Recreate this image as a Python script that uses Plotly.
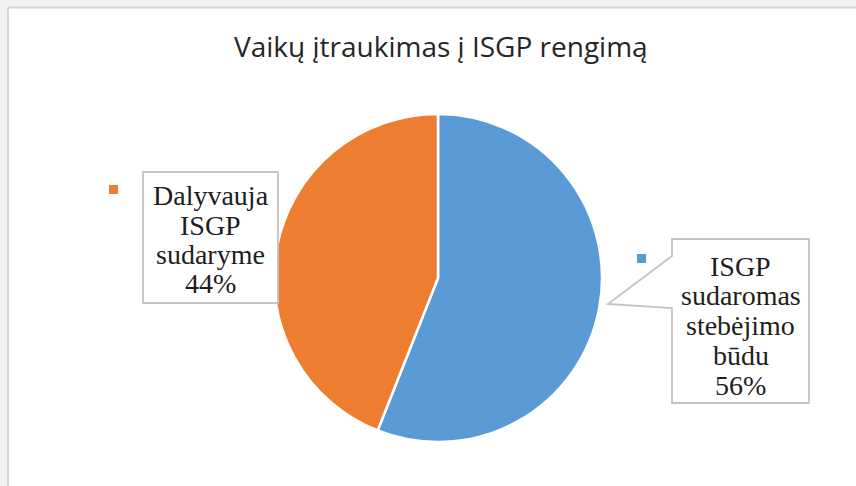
import plotly.graph_objects as go

# ---- data ----
labels = ["ISGP\nsudaromas\nstebėjimo\nbūdu", "Dalyvauja\nISGP\nsudaryme"]
values = [56, 44]
colors = ["#5B9BD5", "#ED7D31"]
title_text = "Vaikų įtraukimas į ISGP rengimą"

W, H = 856, 486
def px(x):
    return x / W
def py(y):
    return 1 - y / H

total = sum(values)
pct = [f"{round(100 * v / total)}%" for v in values]

fig = go.Figure()
cx, cy, r = 438, 278, 164
fig.add_trace(go.Pie(
    labels=[l.replace("\n", " ") for l in labels],
    values=values,
    sort=False,
    direction="clockwise",
    rotation=0,
    marker=dict(colors=colors, line=dict(color="white", width=2.5)),
    textinfo="none",
    hoverinfo="label+percent",
    showlegend=False,
    domain=dict(x=[px(cx - r), px(cx + r)], y=[py(cy + r), py(cy - r)]),
))

shapes = []
annotations = []
# frame
shapes.append(dict(type="rect", xref="paper", yref="paper", x0=0, x1=1, y0=py(7), y1=1,
                   fillcolor="#f2f2f2", line=dict(width=0), layer="below"))
shapes.append(dict(type="rect", xref="paper", yref="paper", x0=0, x1=px(7), y0=0, y1=1,
                   fillcolor="#f2f2f2", line=dict(width=0), layer="below"))
shapes.append(dict(type="line", xref="paper", yref="paper", x0=px(8), x1=1, y0=py(7.5), y1=py(7.5),
                   line=dict(color="#d4d4d4", width=2)))
shapes.append(dict(type="line", xref="paper", yref="paper", x0=px(8), x1=px(8), y0=0, y1=py(7.5),
                   line=dict(color="#d4d4d4", width=2)))

# label boxes: (left, top, right, bottom, first-line center y, spacing, marker x, marker y)
boxes = [
    dict(l=672, t=239, r=809, b=403, y0=266, dy=29.8, mx=637, my=254,
         callout=((672, 308), (608, 304), (672, 256))),
    dict(l=143, t=172, r=278, b=303, y0=196, dy=29.2, mx=109, my=185, callout=None),
]
box_line = dict(color="#c4c4c4", width=1.8)
serif = "Liberation Serif, Times New Roman, serif"
for i, bx in enumerate(boxes):
    L, T, R, B = bx["l"], bx["t"], bx["r"], bx["b"]
    if bx["callout"]:
        (ax, ay), (tx, ty), (bx2, by2) = bx["callout"]
        path = (f"M {px(L)},{py(T)} L {px(R)},{py(T)} L {px(R)},{py(B)} L {px(L)},{py(B)} "
                f"L {px(ax)},{py(ay)} L {px(tx)},{py(ty)} L {px(bx2)},{py(by2)} Z")
        shapes.append(dict(type="path", xref="paper", yref="paper", path=path,
                           fillcolor="white", line=box_line, layer="above"))
    else:
        shapes.append(dict(type="rect", xref="paper", yref="paper", x0=px(L), x1=px(R),
                           y0=py(B), y1=py(T), fillcolor="white", line=box_line, layer="above"))
    # legend key
    shapes.append(dict(type="rect", xref="paper", yref="paper", x0=px(bx["mx"]), x1=px(bx["mx"] + 9),
                       y0=py(bx["my"] + 9), y1=py(bx["my"]), fillcolor=colors[i],
                       line=dict(width=0), layer="above"))
    lines = labels[i].split("\n") + [pct[i]]
    xc = (L + R) / 2
    for j, t in enumerate(lines):
        annotations.append(dict(text=t, xref="paper", yref="paper", x=px(xc),
                                y=py(bx["y0"] + j * bx["dy"]), xanchor="center", yanchor="middle",
                                showarrow=False,
                                font=dict(family=serif, size=28, color="#1e1e1e")))

annotations.append(dict(text=title_text, xref="paper", yref="paper", x=px(441), y=py(46),
                        xanchor="center", yanchor="middle", showarrow=False,
                        font=dict(family="Open Sans", size=28, color="#262626")))

fig.update_layout(
    width=W, height=H,
    margin=dict(l=0, r=0, t=0, b=0),
    paper_bgcolor="white",
    plot_bgcolor="white",
    shapes=shapes,
    annotations=annotations,
)
fig.write_html("out.html", config={"displayModeBar": False},
               post_script="document.body.style.margin='0';")
